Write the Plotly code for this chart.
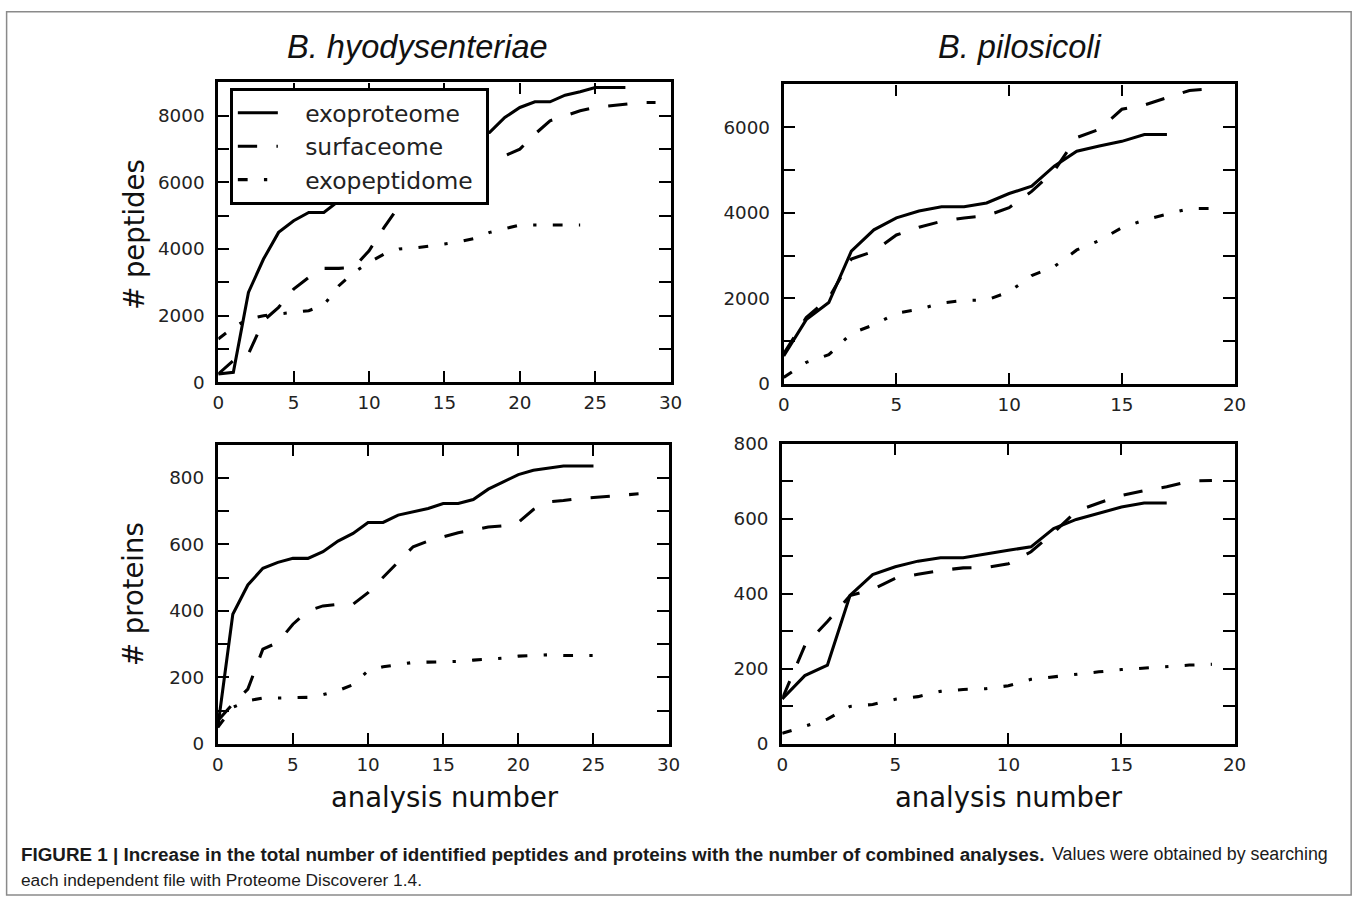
import plotly.graph_objects as go

# page geometry: default 8px body margin and the effective page-to-screen scale
PAGE_OFFSET = 8
SX, SY = 0.986, 0.979
W = round(1357 / SX) - 2 * PAGE_OFFSET
H = round(897 / SY) - 2 * PAGE_OFFSET
FS = 1 / ((SX + SY) / 2)  # font / length scale

# ---- data: cumulative identifications vs. number of combined analyses ----
# B. hyodysenteriae, peptides
hyo_pep_exoproteome = [250, 300, 2700, 3700, 4500, 4850, 5100, 5100, 5450, 5700, 6000, 6300, 6550, 6800,
                       7000, 7150, 7300, 7400, 7500, 7950, 8250, 8420, 8420, 8620, 8720, 8850, 8850, 8850]
hyo_pep_surfaceome = [250, 650, 850, 1850, 2250, 2800, 3150, 3420, 3420, 3450, 3950, 4650, 5300, 5900, 6300,
                      6500, 6650, 6750, 6800, 6800, 7000, 7450, 7850, 8000, 8150, 8250, 8300, 8350, 8400, 8400]
hyo_pep_exopeptidome = [1300, 1650, 1900, 2000, 2050, 2100, 2150, 2320, 2900, 3300, 3600, 3850, 4000, 4030,
                        4080, 4150, 4220, 4320, 4500, 4620, 4720, 4720, 4720, 4720, 4720]

# B. hyodysenteriae, proteins
hyo_prot_exoproteome = [50, 390, 478, 528, 546, 558, 558, 578, 610, 633, 666, 666, 688, 698, 708, 723, 723,
                        735, 766, 788, 810, 823, 830, 836, 836, 836]
hyo_prot_surfaceome = [70, 120, 165, 285, 305, 360, 400, 415, 420, 420, 455, 500, 545, 593, 610, 622, 635,
                       643, 652, 656, 666, 705, 728, 732, 738, 741, 745, 748, 752]
hyo_prot_exopeptidome = [50, 110, 130, 138, 138, 138, 140, 148, 160, 178, 220, 232, 238, 245, 246, 246, 248,
                         252, 255, 258, 264, 266, 268, 266, 266, 266]

# B. pilosicoli, peptides
pil_pep_exoproteome = [650, 1500, 1900, 3100, 3600, 3880, 4040, 4140, 4140, 4230, 4450, 4620, 5090, 5440,
                       5560, 5670, 5830, 5830]
pil_pep_surfaceome = [700, 1550, 2000, 2920, 3100, 3480, 3660, 3800, 3880, 3930, 4120, 4500, 4980, 5760,
                      5950, 6420, 6520, 6690, 6860, 6900]
pil_pep_exopeptidome = [150, 500, 680, 1180, 1380, 1650, 1740, 1890, 1950, 1960, 2150, 2530, 2740, 3130,
                        3350, 3650, 3830, 3960, 4100, 4100]

# B. pilosicoli, proteins
pil_prot_exoproteome = [120, 182, 210, 396, 451, 472, 487, 496, 496, 507, 516, 525, 574, 598, 615, 631, 642, 642]
pil_prot_surfaceome = [120, 262, 326, 395, 412, 441, 452, 462, 469, 470, 480, 512, 563, 620, 642, 662, 675,
                       685, 700, 702]
pil_prot_exopeptidome = [28, 48, 66, 100, 105, 119, 126, 140, 145, 147, 155, 172, 179, 187, 192, 198, 202,
                         207, 210, 212]

series_names = ["exoproteome", "surfaceome", "exopeptidome"]

# axis ticks
hyo_x_ticks = [0, 5, 10, 15, 20, 25, 30]
pil_x_ticks = [0, 5, 10, 15, 20]
pep_hyo_y_ticks = [0, 1000, 2000, 3000, 4000, 5000, 6000, 7000, 8000, 9000]
pep_hyo_y_labels = ["0", "", "2000", "", "4000", "", "6000", "", "8000", ""]
pep_pil_y_ticks = [0, 1000, 2000, 3000, 4000, 5000, 6000, 7000]
pep_pil_y_labels = ["0", "", "2000", "", "4000", "", "6000", ""]
prot_hyo_y_ticks = [0, 100, 200, 300, 400, 500, 600, 700, 800, 900]
prot_hyo_y_labels = ["0", "", "200", "", "400", "", "600", "", "800", ""]
prot_pil_y_ticks = [0, 100, 200, 300, 400, 500, 600, 700, 800]
prot_pil_y_labels = ["0", "", "200", "", "400", "", "600", "", "800"]


def dash(*lengths):
    return ",".join(f"{v * FS:.1f}px" for v in lengths)


dash_styles = {
    "exoproteome": "solid",
    "surfaceome": dash(19, 19),
    "exopeptidome": dash(9.6, 16, 3.2, 16),
}

panels = [
    # (axis suffix, series list, show legend)
    ("", [hyo_pep_exoproteome, hyo_pep_surfaceome, hyo_pep_exopeptidome], True),
    ("2", [pil_pep_exoproteome, pil_pep_surfaceome, pil_pep_exopeptidome], False),
    ("3", [hyo_prot_exoproteome, hyo_prot_surfaceome, hyo_prot_exopeptidome], False),
    ("4", [pil_prot_exoproteome, pil_prot_surfaceome, pil_prot_exopeptidome], False),
]

NBSP = "\u00a0"

fig = go.Figure()
for suffix, series, show in panels:
    for name, values in zip(series_names, series):
        fig.add_trace(go.Scatter(
            x=list(range(len(values))), y=values, mode="lines",
            name=NBSP * 3 + name + NBSP,
            line=dict(color="black", width=3 * FS, dash=dash_styles[name]),
            xaxis="x" + suffix, yaxis="y" + suffix,
            showlegend=show, hoverinfo="skip",
        ))


# screen-pixel -> paper-coordinate helpers
def px(x):
    return (x / SX - PAGE_OFFSET) / W


def py(y):
    return 1 - (y / SY - PAGE_OFFSET) / H


def xdom(left, right):
    return [px(left), px(right)]


def ydom(top, bottom):
    return [py(bottom), py(top)]


tick_font = dict(family="DejaVu Sans", size=18 * FS, color="#222")
common = dict(showline=True, linewidth=3 * FS, linecolor="black", mirror="allticks",
              ticks="inside", ticklen=11 * FS, tickwidth=2 * FS, tickcolor="black",
              showgrid=False, zeroline=False, tickfont=tick_font, fixedrange=True)


def xaxis(domain, rng, ticks, anchor):
    return dict(common, domain=domain, range=rng, tickmode="array", tickvals=ticks,
                ticktext=[str(t) for t in ticks], anchor=anchor, ticklabelstandoff=2)


def yaxis(domain, rng, ticks, labels, anchor):
    return dict(common, domain=domain, range=rng, tickmode="array", tickvals=ticks,
                ticktext=labels, anchor=anchor, ticklabelstandoff=7)


fig.update_layout(
    width=W, height=H,
    margin=dict(l=0, r=0, t=0, b=0),
    paper_bgcolor="white", plot_bgcolor="white",
    xaxis=xaxis(xdom(220, 672), [0, 30], hyo_x_ticks, "y"),
    yaxis=yaxis(ydom(79.5, 380), [0, 9000], pep_hyo_y_ticks, pep_hyo_y_labels, "x"),
    xaxis2=xaxis(xdom(785, 1235.5), [0, 20], pil_x_ticks, "y2"),
    yaxis2=yaxis(ydom(81.5, 381.5), [0, 7000], pep_pil_y_ticks, pep_pil_y_labels, "x2"),
    xaxis3=xaxis(xdom(219.5, 670), [0, 30], hyo_x_ticks, "y3"),
    yaxis3=yaxis(ydom(442.5, 742.5), [0, 900], prot_hyo_y_ticks, prot_hyo_y_labels, "x3"),
    xaxis4=xaxis(xdom(783.5, 1235.5), [0, 20], pil_x_ticks, "y4"),
    yaxis4=yaxis(ydom(441.5, 742.5), [0, 800], prot_pil_y_ticks, prot_pil_y_labels, "x4"),
    legend=dict(x=px(231.5), y=py(85), xanchor="left", yanchor="top",
                bordercolor="black", borderwidth=3 * FS, bgcolor="white",
                font=dict(family="DejaVu Sans", size=23 * FS, color="#222"),
                itemwidth=40, tracegroupgap=0),
    showlegend=True,
)


def px_annot(text, x, y, size, family="DejaVu Sans", angle=0, xanchor="center", color="#111"):
    fig.add_annotation(text=text, x=px(x), y=py(y), xref="paper", yref="paper",
                       xanchor=xanchor, yanchor="middle", showarrow=False, textangle=angle,
                       font=dict(family=family, size=size * FS, color=color))


# panel titles
px_annot("<i>B. hyodysenteriae</i>", 419, 44, 32, family="Liberation Sans")
px_annot("<i>B. pilosicoli</i>", 1021, 44, 32, family="Liberation Sans")

# axis titles
px_annot("# peptides", 135, 232, 27, angle=-90)
px_annot("# proteins", 135, 592, 27, angle=-90)
px_annot("analysis number", 447, 796, 27)
px_annot("analysis number", 1010, 796, 27)

# caption
px_annot("<b>FIGURE 1 | Increase in the total number of identified peptides and proteins with the number of "
         "combined analyses.</b>", 21, 853, 18.5, family="Liberation Sans", xanchor="left", color="#1a1a1a")
px_annot("Values were obtained by searching", 1331, 853, 17.5,
         family="Liberation Sans", xanchor="right", color="#1a1a1a")
px_annot("each independent file with Proteome Discoverer 1.4.", 21, 879, 17,
         family="Liberation Sans", xanchor="left", color="#1a1a1a")

# outer frame of the figure
fig.add_shape(type="rect", xref="paper", yref="paper",
              x0=max(px(8.5), 0.6 / W), x1=px(1352), y0=py(894), y1=1 - 0.75 / H,
              line=dict(color="#8a8a8a", width=1.5), fillcolor="rgba(0,0,0,0)", layer="below")

fig.write_html("out.html")
